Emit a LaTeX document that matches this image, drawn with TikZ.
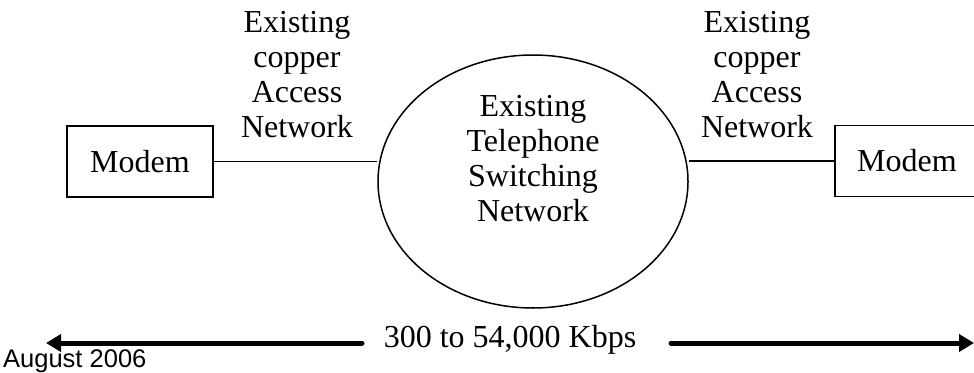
\documentclass[tikz,border=0pt]{standalone}
\usepackage{fontspec}
\setmainfont{Liberation Serif}
\setsansfont{Liberation Sans}
\usetikzlibrary{arrows.meta,shapes.geometric}
\begin{document}
\begin{tikzpicture}[x=1pt,y=-1pt,
  txt/.style={font=\fontsize{32}{35}\selectfont, align=center, inner sep=0pt},
  modembox/.style={draw, line width=1.3pt, minimum width=146pt, minimum height=71pt, inner sep=0pt, font=\fontsize{32}{35}\selectfont},
  link/.style={line width=1.3pt},
  bigarrow/.style={line width=5pt, line cap=round, -{Triangle[length=15pt,width=17pt]}}]
\useasboundingbox (0,0) rectangle (974,372);
\begin{scope}
\clip (0,0) rectangle (974,372);
\node[modembox] (m1) at (140,161.5) {Modem};
\node[modembox, minimum width=144pt] (m2) at (907,161) {Modem};
\node[draw, ellipse, line width=1.5pt, minimum width=310pt, minimum height=253pt, inner sep=0pt] (net) at (533,181.5) {};
\node[txt] (nettxt) at (533,159) {Existing\\Telephone\\Switching\\Network};
\node[txt] (lab1) at (297,75) {Existing\\copper\\Access\\Network};
\node[txt] (lab2) at (757,75) {Existing\\copper\\Access\\Network};
\draw[link] (m1.east) -- (net.west |- m1.east);
\draw[link] (m2.west) -- (net.east |- m2.west);
\node[txt] (rate) at (510,340) {300 to 54,000 Kbps};
\coordinate (la) at (362,343);
\coordinate (lt) at (46,343);
\coordinate (ra) at (671,343);
\coordinate (rt) at (974,343);
\draw[bigarrow] (la) -- (lt);
\draw[bigarrow] (ra) -- (rt);
\node[font=\sffamily\fontsize{25.5}{28}\selectfont, anchor=base west, inner sep=0pt] (date) at (3,367) {August 2006};
\end{scope}
\end{tikzpicture}
\end{document}
